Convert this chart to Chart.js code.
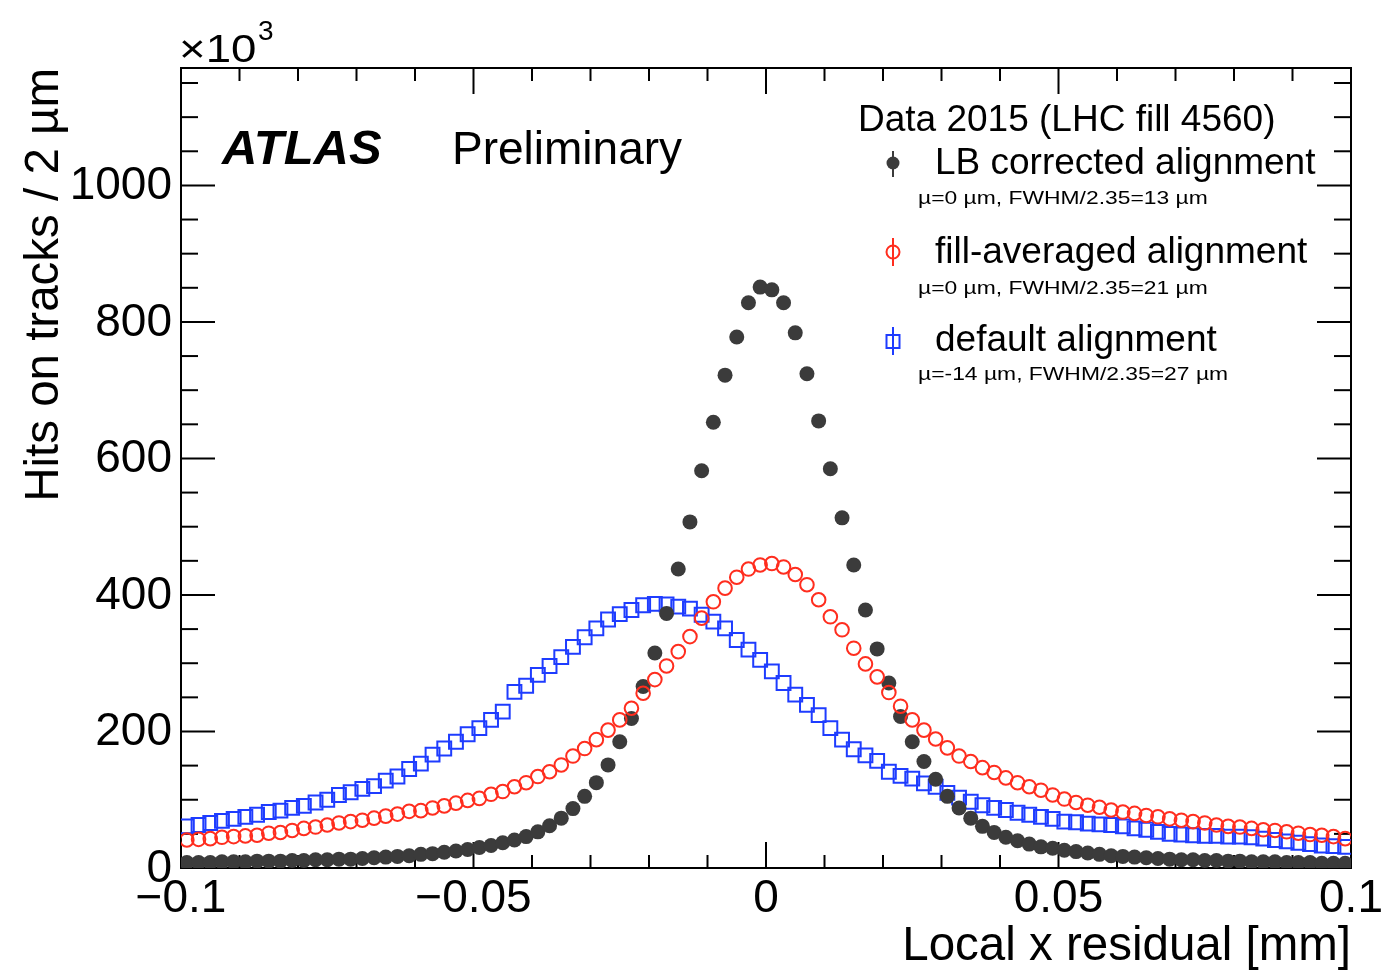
<!DOCTYPE html>
<html>
<head>
<meta charset="utf-8">
<title>Local x residual</title>
<script src="https://cdn.jsdelivr.net/npm/chart.js@4.4.1/dist/chart.umd.min.js"></script>
<style>
  html, body { margin: 0; padding: 0; background: #fff; }
  #wrap { width: 1387px; height: 972px; }
</style>
</head>
<body>
<div id="wrap"><canvas id="residual-chart" width="1387" height="972"></canvas></div>
<script>
// bin centres, um (2 um bins from -100 to 100 um)
var binCentersUm = [
  -99, -97, -95, -93, -91, -89, -87, -85, -83, -81,
  -79, -77, -75, -73, -71, -69, -67, -65, -63, -61,
  -59, -57, -55, -53, -51, -49, -47, -45, -43, -41,
  -39, -37, -35, -33, -31, -29, -27, -25, -23, -21,
  -19, -17, -15, -13, -11, -9, -7, -5, -3, -1,
  1, 3, 5, 7, 9, 11, 13, 15, 17, 19,
  21, 23, 25, 27, 29, 31, 33, 35, 37, 39,
  41, 43, 45, 47, 49, 51, 53, 55, 57, 59,
  61, 63, 65, 67, 69, 71, 73, 75, 77, 79,
  81, 83, 85, 87, 89, 91, 93, 95, 97, 99
];

// hits on tracks, x10^3
var lbCorrected = [
  8, 8, 8, 9, 9, 9, 10, 10, 10, 11,
  11, 12, 12, 13, 13, 14, 15, 16, 17, 18,
  20, 21, 23, 25, 27, 30, 33, 37, 41, 46,
  53, 62, 73, 87, 105, 125, 151, 185, 219, 266,
  315, 373, 438, 507, 582, 653, 722, 778, 828, 851,
  847, 828, 784, 724, 655, 585, 513, 444, 378, 321,
  271, 222, 185, 156, 130, 105, 88, 73, 61, 52,
  45, 40, 35, 31, 29, 26, 24, 22, 20, 18,
  17, 16, 15, 14, 13, 12, 12, 11, 11, 10,
  10, 9, 9, 9, 8, 8, 8, 7, 7, 7
];
var fillAveraged = [
  41, 42, 43, 45, 46, 47, 48, 51, 52, 55,
  58, 60, 63, 66, 68, 70, 73, 76, 79, 83,
  84, 88, 91, 95, 99, 102, 108, 112, 119, 125,
  134, 141, 151, 164, 175, 188, 202, 217, 234, 256,
  276, 296, 317, 339, 366, 390, 410, 426, 438, 444,
  446, 441, 430, 415, 393, 368, 349, 322, 299, 280,
  257, 237, 217, 202, 189, 176, 164, 156, 147, 140,
  132, 125, 119, 114, 107, 101, 96, 92, 89, 85,
  82, 80, 77, 75, 72, 70, 68, 66, 63, 61,
  60, 58, 56, 55, 53, 51, 49, 48, 46, 43
];
var defaultAlign = [
  61, 63, 66, 69, 72, 75, 78, 82, 84, 88,
  91, 96, 100, 107, 111, 116, 120, 128, 134, 145,
  153, 166, 175, 185, 196, 205, 217, 229, 258, 267,
  283, 296, 309, 324, 338, 351, 364, 372, 378, 385,
  387, 386, 383, 380, 371, 361, 351, 334, 320, 305,
  288, 271, 254, 239, 224, 205, 188, 174, 165, 157,
  141, 135, 131, 124, 119, 110, 103, 97, 92, 88,
  85, 81, 78, 75, 72, 68, 67, 65, 64, 63,
  61, 58, 56, 53, 50, 49, 48, 47, 47, 46,
  46, 45, 43, 41, 39, 37, 35, 33, 32, 31
];

var xTickLabels = ['\u22120.1', '\u22120.05', '0', '0.05', '0.1'];
var yTickLabels = ['0', '200', '400', '600', '800', '1000'];
var seriesNames = ['LB corrected alignment', 'fill-averaged alignment', 'default alignment'];
var seriesNotes = ['\u00b5=0 \u00b5m, FWHM/2.35=13 \u00b5m', '\u00b5=0 \u00b5m, FWHM/2.35=21 \u00b5m', '\u00b5=-14 \u00b5m, FWHM/2.35=27 \u00b5m'];

var FONT = "'Liberation Sans', Arial, Helvetica, sans-serif";
var BLACK = '#3b3b3b', RED = '#ff2d1e', BLUE = '#1e3cff';

Chart.defaults.font.family = FONT;
Chart.defaults.color = '#000';

function toPoints(vals) {
  return binCentersUm.map(function (u, i) { return { x: u / 1000, y: vals[i] }; });
}

function line(ctx, x1, y1, x2, y2) {
  ctx.beginPath(); ctx.moveTo(x1, y1); ctx.lineTo(x2, y2); ctx.stroke();
}

// frame with inward ticks on all four sides, like ROOT
var rootFrame = {
  id: 'rootFrame',
  beforeDatasetsDraw: function (chart) {
    var ctx = chart.ctx, a = chart.chartArea, xs = chart.scales.x, ys = chart.scales.y;
    ctx.save();
    ctx.strokeStyle = '#000';
    ctx.lineWidth = 2;
    ctx.strokeRect(a.left, a.top, a.right - a.left, a.bottom - a.top);
    for (var k = -10; k <= 10; k++) {
      var px = xs.getPixelForValue(k / 100);
      var len = (k % 5 === 0) ? 26 : 13;
      line(ctx, px, a.bottom, px, a.bottom - len);
      line(ctx, px, a.top, px, a.top + len);
    }
    for (var v = 0; v <= ys.max; v += 50) {
      var py = ys.getPixelForValue(v);
      var l2 = (v % 200 === 0) ? 34 : 17;
      line(ctx, a.left, py, a.left + l2, py);
      line(ctx, a.right, py, a.right - l2, py);
    }
    // y tick labels, placed on the scale
    ctx.fillStyle = '#000';
    ctx.font = '46px ' + FONT;
    ctx.textAlign = 'right';
    ctx.textBaseline = 'middle';
    yTickLabels.forEach(function (lab) {
      ctx.fillText(lab, a.left - 9, ys.getPixelForValue(Number(lab)) + 1);
    });
    ctx.restore();
  }
};

function stretchText(ctx, txt, x, y, sx) {
  ctx.save();
  ctx.translate(x, y);
  ctx.scale(sx, 1);
  ctx.fillText(txt, 0, 0);
  ctx.restore();
}

// labels and the legend block
var rootText = {
  id: 'rootText',
  afterDraw: function (chart) {
    var ctx = chart.ctx;
    ctx.save();
    ctx.fillStyle = '#000';
    ctx.textBaseline = 'alphabetic';
    ctx.textAlign = 'left';

    ctx.font = '38px ' + FONT;
    stretchText(ctx, '\u00d710', 179, 62, 1.2);
    ctx.font = '28px ' + FONT;
    ctx.fillText('3', 258, 40);

    ctx.font = 'italic bold 49px ' + FONT;
    ctx.fillText('ATLAS', 222, 164);
    ctx.font = '46px ' + FONT;
    ctx.fillText('Preliminary', 452, 164);

    ctx.font = '37px ' + FONT;
    ctx.fillText('Data 2015 (LHC fill 4560)', 858, 131);

    var rows = [174, 263, 351];
    var notes = [204, 294, 380];
    for (var i = 0; i < 3; i++) {
      ctx.font = '37px ' + FONT;
      ctx.fillStyle = '#000';
      ctx.fillText(seriesNames[i], 935, rows[i]);
      ctx.font = '18px ' + FONT;
      stretchText(ctx, seriesNotes[i], 918, notes[i], 1.27);
    }

    // legend markers with their error bars
    var mx = 893;
    ctx.lineWidth = 2;
    ctx.strokeStyle = BLACK; ctx.fillStyle = BLACK;
    line(ctx, mx, 151, mx, 177);
    ctx.beginPath(); ctx.arc(mx, 163, 6.5, 0, Math.PI * 2); ctx.fill();
    ctx.strokeStyle = RED;
    line(ctx, mx, 238, mx, 266);
    ctx.beginPath(); ctx.arc(mx, 252, 6.5, 0, Math.PI * 2); ctx.stroke();
    ctx.strokeStyle = BLUE;
    line(ctx, mx, 327, mx, 355);
    ctx.strokeRect(mx - 6.5, 335, 13, 13);
    ctx.restore();
  }
};

new Chart(document.getElementById('residual-chart'), {
  type: 'scatter',
  data: {
    datasets: [
      {
        label: seriesNames[2],
        data: toPoints(defaultAlign),
        pointStyle: 'rect',
        pointRadius: 9.8,
        pointBackgroundColor: 'rgba(0,0,0,0)',
        pointBorderColor: BLUE,
        pointBorderWidth: 2,
        order: 3
      },
      {
        label: seriesNames[1],
        data: toPoints(fillAveraged),
        pointStyle: 'circle',
        pointRadius: 6.8,
        pointBackgroundColor: 'rgba(0,0,0,0)',
        pointBorderColor: RED,
        pointBorderWidth: 2,
        order: 1
      },
      {
        label: seriesNames[0],
        data: toPoints(lbCorrected),
        pointStyle: 'circle',
        pointRadius: 7.5,
        pointBackgroundColor: BLACK,
        pointBorderWidth: 0,
        order: 2
      }
    ]
  },
  options: {
    responsive: false,
    animation: false,
    devicePixelRatio: 1,
    events: [],
    layout: { padding: { top: 68, right: 36, left: 0, bottom: 0 } },
    plugins: {
      legend: { display: false },
      tooltip: { enabled: false }
    },
    scales: {
      x: {
        type: 'linear',
        min: -0.1,
        max: 0.1,
        afterFit: function (s) { s.height = 104; },
        grid: { display: false, drawTicks: false },
        border: { display: false },
        ticks: {
          stepSize: 0.05,
          includeBounds: false,
          autoSkip: false,
          maxRotation: 0,
          padding: 4,
          color: '#000',
          font: { size: 46 },
          callback: function (v) { return xTickLabels[Math.round((v + 0.1) / 0.05)]; }
        },
        title: {
          display: true,
          text: 'Local x residual [mm]',
          align: 'end',
          color: '#000',
          font: { size: 47.5, lineHeight: 1 },
          padding: { top: 0, bottom: 1 }
        }
      },
      y: {
        min: 0,
        max: 1172,
        afterFit: function (s) { s.width = 181; },
        grid: { display: false, drawTicks: false },
        border: { display: false },
        ticks: { display: false, stepSize: 200, includeBounds: false },
        title: {
          display: true,
          text: 'Hits on tracks / 2 \u00b5m',
          align: 'end',
          color: '#000',
          font: { size: 47.5, lineHeight: 1 },
          padding: { top: 21, bottom: 0 }
        }
      }
    }
  },
  plugins: [rootFrame, rootText]
});
</script>
</body>
</html>
